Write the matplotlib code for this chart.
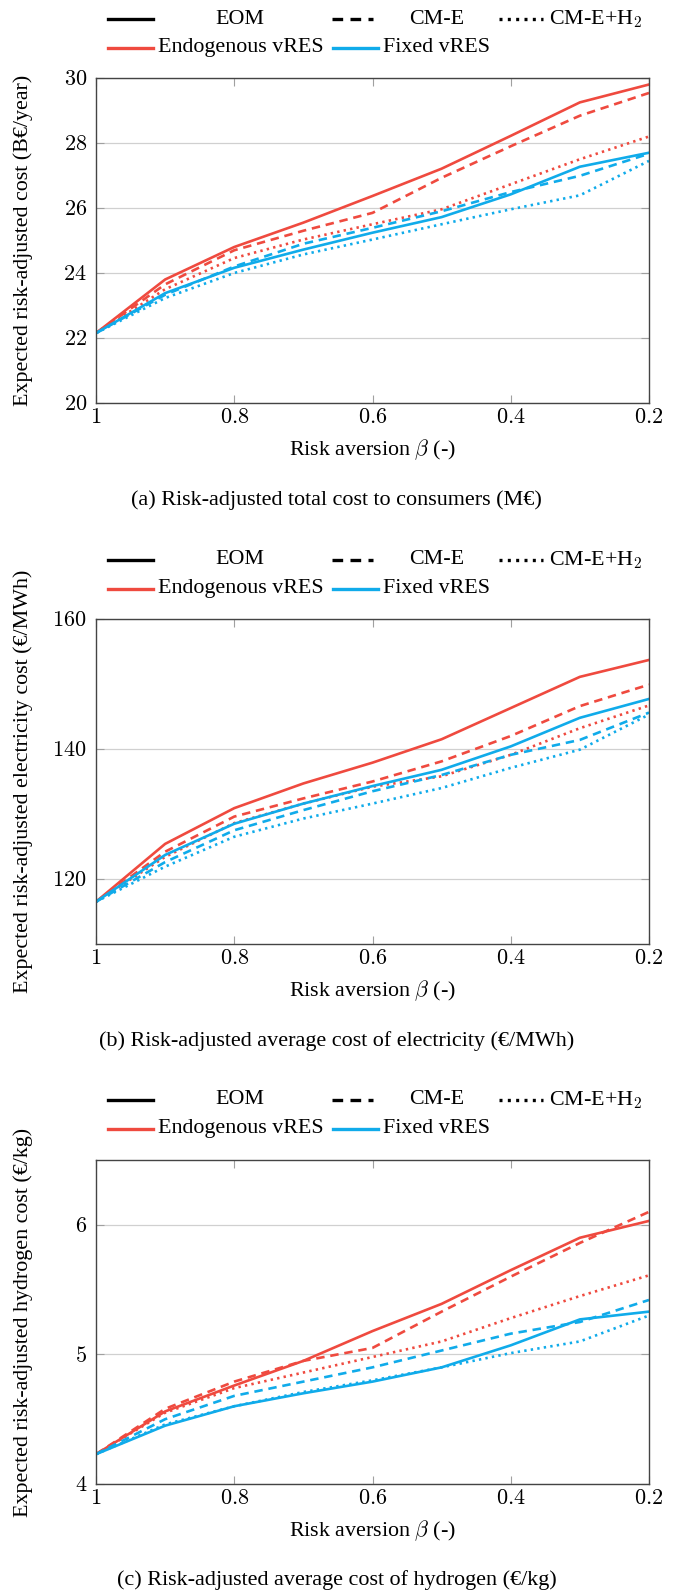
import numpy as np
import matplotlib
matplotlib.use("Agg")
import matplotlib.pyplot as plt
from matplotlib.lines import Line2D
from matplotlib.ticker import FuncFormatter

plt.rcParams['font.family'] = ['Liberation Serif', 'DejaVu Serif']
plt.rcParams['mathtext.fontset'] = 'cm'

RED = '#ef4a3f'
BLUE = '#10abea'

beta = [1.0, 0.9, 0.8, 0.7, 0.6, 0.5, 0.4, 0.3, 0.2]

# (a) total cost, B€/year
cost_endo_eom = [22.15, 23.80, 24.80, 25.55, 26.37, 27.21, 28.22, 29.25, 29.80]
cost_endo_cme = [22.15, 23.65, 24.70, 25.30, 25.85, 26.93, 27.90, 28.84, 29.54]
cost_endo_h2 = [22.15, 23.50, 24.46, 25.03, 25.50, 25.96, 26.73, 27.50, 28.20]
cost_fix_eom = [22.15, 23.38, 24.16, 24.72, 25.24, 25.72, 26.42, 27.27, 27.70]
cost_fix_cme = [22.15, 23.33, 24.20, 24.90, 25.39, 25.90, 26.49, 26.99, 27.67]
cost_fix_h2 = [22.15, 23.23, 24.00, 24.57, 25.03, 25.50, 25.96, 26.39, 27.45]

# (b) electricity cost, €/MWh
elec_endo_eom = [116.5, 125.4, 130.9, 134.7, 137.9, 141.5, 146.3, 151.1, 153.7]
elec_endo_cme = [116.5, 124.2, 129.6, 132.4, 135.0, 138.1, 142.0, 146.6, 149.9]
elec_endo_h2 = [116.5, 123.4, 128.6, 131.6, 134.2, 135.8, 139.1, 143.2, 146.7]
elec_fix_eom = [116.5, 123.7, 128.5, 131.6, 134.3, 136.8, 140.4, 144.8, 147.7]
elec_fix_cme = [116.5, 122.6, 127.5, 130.6, 133.5, 136.0, 139.1, 141.4, 145.6]
elec_fix_h2 = [116.5, 121.9, 126.5, 129.3, 131.6, 134.0, 137.1, 139.9, 145.3]

# (c) hydrogen cost, €/kg
h2_endo_eom = [4.23, 4.56, 4.76, 4.95, 5.18, 5.39, 5.65, 5.90, 6.03]
h2_endo_cme = [4.23, 4.58, 4.79, 4.95, 5.05, 5.33, 5.60, 5.86, 6.10]
h2_endo_h2 = [4.23, 4.55, 4.74, 4.86, 4.98, 5.10, 5.28, 5.45, 5.61]
h2_fix_eom = [4.23, 4.45, 4.60, 4.70, 4.79, 4.90, 5.07, 5.27, 5.33]
h2_fix_cme = [4.23, 4.50, 4.68, 4.79, 4.90, 5.03, 5.16, 5.25, 5.42]
h2_fix_h2 = [4.23, 4.46, 4.60, 4.71, 4.80, 4.90, 5.01, 5.10, 5.30]

panels = [
    dict(series=[cost_endo_eom, cost_endo_cme, cost_endo_h2, cost_fix_eom, cost_fix_cme, cost_fix_h2],
         ylim=(20, 30), yticks=[20, 22, 24, 26, 28, 30],
         ylabel='Expected risk-adjusted cost (B€/year)',
         caption='(a) Risk-adjusted total cost to consumers (M€)'),
    dict(series=[elec_endo_eom, elec_endo_cme, elec_endo_h2, elec_fix_eom, elec_fix_cme, elec_fix_h2],
         ylim=(110, 160), yticks=[120, 140, 160],
         ylabel='Expected risk-adjusted electricity cost (€/MWh)',
         caption='(b) Risk-adjusted average cost of electricity (€/MWh)'),
    dict(series=[h2_endo_eom, h2_endo_cme, h2_endo_h2, h2_fix_eom, h2_fix_cme, h2_fix_h2],
         ylim=(4, 6.5), yticks=[4, 5, 6],
         ylabel='Expected risk-adjusted hydrogen cost (€/kg)',
         caption='(c) Risk-adjusted average cost of hydrogen (€/kg)'),
]

W, H = 677, 1591
fig = plt.figure(figsize=(W / 100, H / 100), dpi=100)

DASH = (0, (3.2, 2.2))
DOT = (0, (0.9, 1.6))
styles = [(RED, '-'), (RED, DASH), (RED, DOT),
          (BLUE, '-'), (BLUE, DASH), (BLUE, DOT)]

# pixel boxes (top, bottom) of each axes
boxes = [(78, 403), (619, 944), (1160, 1484)]
left, right = 96, 649
FS = 15.8      # labels, legend
TFS = 16       # tick labels
CFS = 15.9     # captions


def fx(px):
    return px / W


def fy(py):
    return 1 - py / H


def legend_rows(ytop):
    r1 = ytop
    r2 = ytop + 28.5
    lw = 2.4
    fig.add_artist(Line2D([fx(108), fx(153)], [fy(r1)] * 2, color='black', lw=lw, ls='-'))
    fig.text(fx(240), fy(r1), 'EOM', ha='center', va='center', fontsize=FS)
    fig.add_artist(Line2D([fx(332), fx(373)], [fy(r1)] * 2, color='black', lw=lw, ls=DASH))
    fig.text(fx(437), fy(r1), 'CM-E', ha='center', va='center', fontsize=FS)
    fig.add_artist(Line2D([fx(499), fx(543)], [fy(r1)] * 2, color='black', lw=lw, ls=DOT))
    fig.text(fx(549), fy(r1), 'CM-E+H$_2$', ha='left', va='center', fontsize=FS)
    fig.add_artist(Line2D([fx(108), fx(153)], [fy(r2)] * 2, color=RED, lw=lw))
    fig.text(fx(158), fy(r2), 'Endogenous vRES', ha='left', va='center', fontsize=FS)
    fig.add_artist(Line2D([fx(333), fx(378)], [fy(r2)] * 2, color=BLUE, lw=lw))
    fig.text(fx(383), fy(r2), 'Fixed vRES', ha='left', va='center', fontsize=FS)


legend_tops = [19, 560, 1100]
caption_y = [500, 1041, 1580]

for p, (top, bot), ltop, cy in zip(panels, boxes, legend_tops, caption_y):
    ax = fig.add_axes([fx(left), fy(bot), (right - left) / W, (bot - top) / H])
    for s, (c, ls) in zip(p['series'], styles):
        ax.plot(beta, s, color=c, ls=ls, lw=1.9, solid_joinstyle='miter')
    ax.set_xlim(1, 0.2)
    ax.set_ylim(*p['ylim'])
    ax.set_xticks([1, 0.8, 0.6, 0.4, 0.2])
    ax.set_yticks(p['yticks'])
    ax.xaxis.set_major_formatter(FuncFormatter(lambda v, _: '$%g$' % round(v, 1)))
    ax.yaxis.set_major_formatter(FuncFormatter(lambda v, _: '$%g$' % v))
    ax.tick_params(direction='in', length=6, width=0.8, color='#a0a0a0',
                   top=True, right=True, labelsize=TFS)
    ax.tick_params(axis='x', pad=4.5)
    ax.tick_params(axis='y', pad=6.5)
    ax.grid(axis='y', color='#d0d0d0', lw=0.9)
    ax.set_axisbelow(True)
    for sp in ax.spines.values():
        sp.set_color('#444444')
        sp.set_linewidth(1.0)
    ax.set_ylabel(p['ylabel'], fontsize=FS)
    ax.yaxis.set_label_coords(-(left - 33) / (right - left), 0.5)
    fig.text(0.5 * (left + right) / W, fy(bot + 47), r'Risk aversion $\beta$ (-)',
             ha='center', va='center', fontsize=FS)
    legend_rows(ltop)
    fig.text(0.497, fy(cy), p['caption'], ha='center', va='center', fontsize=CFS)

fig.savefig('out.png', dpi=100)
